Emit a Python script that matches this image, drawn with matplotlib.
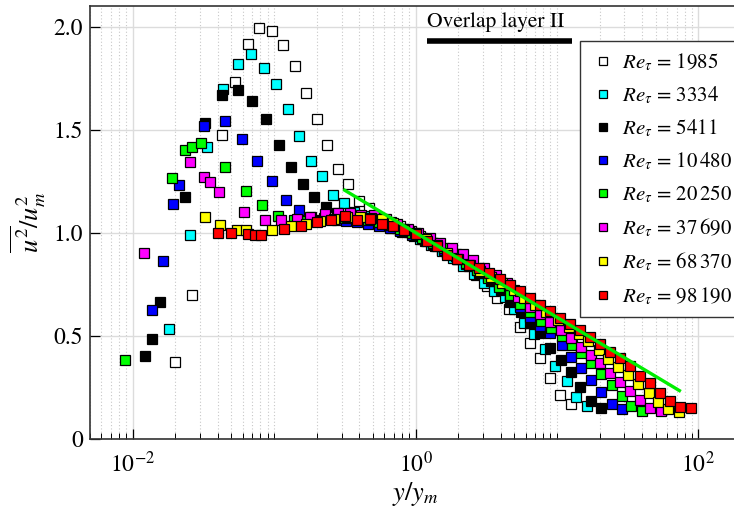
import matplotlib
matplotlib.use('Agg')
import matplotlib.pyplot as plt
from matplotlib.ticker import FixedLocator, NullFormatter, FixedFormatter

plt.rcParams['font.family'] = 'STIXGeneral'
plt.rcParams['mathtext.fontset'] = 'stix'

# ---------------- data ----------------
x_1985 = [0.0199, 0.0261, 0.0428, 0.0532, 0.0653, 0.0781, 0.0960, 0.116, 0.140, 0.168,
          0.200, 0.238, 0.282, 0.334, 0.397, 0.468, 0.557, 0.666, 0.783, 0.922,
          1.084, 1.30, 1.55, 1.86, 2.22, 2.66, 3.21, 3.78, 4.56, 5.46,
          6.43, 7.56, 8.89, 10.5, 12.5]
y_1985 = [0.375, 0.697, 1.474, 1.731, 1.914, 1.992, 1.977, 1.909, 1.809, 1.680,
          1.550, 1.427, 1.311, 1.236, 1.153, 1.121, 1.074, 1.055, 1.035, 1.011,
          0.983, 0.953, 0.919, 0.885, 0.846, 0.798, 0.741, 0.684, 0.631, 0.542,
          0.469, 0.393, 0.299, 0.215, 0.171]

x_3334 = [0.0181, 0.0254, 0.0337, 0.0438, 0.0552, 0.0686, 0.0847, 0.104, 0.125, 0.151,
          0.182, 0.219, 0.260, 0.310, 0.366, 0.436, 0.522, 0.624, 0.746, 0.893,
          1.07, 1.28, 1.53, 1.83, 2.18, 2.61, 3.07, 3.61, 4.26, 4.95,
          5.89, 6.93, 8.20, 9.76, 11.7, 13.7, 16.3]
y_3334 = [0.534, 0.992, 1.416, 1.696, 1.820, 1.867, 1.798, 1.720, 1.599, 1.469,
          1.348, 1.275, 1.186, 1.146, 1.100, 1.084, 1.065, 1.045, 1.026, 1.006,
          0.972, 0.943, 0.914, 0.880, 0.841, 0.802, 0.759, 0.720, 0.691, 0.631,
          0.566, 0.510, 0.437, 0.356, 0.283, 0.204, 0.162]

x_5411 = [0.0122, 0.0138, 0.0156, 0.0233, 0.0324, 0.0431, 0.0555, 0.0701, 0.0881, 0.108,
          0.131, 0.160, 0.192, 0.232, 0.277, 0.331, 0.396, 0.473, 0.566, 0.676,
          0.809, 0.968, 1.16, 1.38, 1.66, 1.98, 2.37, 2.83, 3.39, 3.99,
          4.69, 5.61, 6.50, 7.64, 9.00, 10.6, 12.5, 14.6, 17.3, 20.6]
y_5411 = [0.404, 0.485, 0.665, 1.175, 1.534, 1.671, 1.691, 1.639, 1.550, 1.427,
          1.318, 1.238, 1.173, 1.124, 1.097, 1.084, 1.070, 1.055, 1.040, 1.026,
          1.006, 0.987, 0.963, 0.939, 0.910, 0.875, 0.841, 0.807, 0.768, 0.725,
          0.667, 0.618, 0.565, 0.516, 0.443, 0.385, 0.327, 0.254, 0.186, 0.152]

x_10480 = [0.0137, 0.0164, 0.0194, 0.0212, 0.0321, 0.0452, 0.0596, 0.0760, 0.0975, 0.122,
           0.149, 0.183, 0.224, 0.277, 0.324, 0.383, 0.458, 0.548, 0.655, 0.783,
           0.937, 1.12, 1.34, 1.60, 1.92, 2.29, 2.74, 3.28, 3.92, 4.69,
           5.52, 6.50, 7.64, 9.00, 10.8, 12.6, 14.9, 17.3, 20.6, 24.3, 29.0]
y_10480 = [0.626, 0.862, 1.142, 1.234, 1.516, 1.542, 1.453, 1.348, 1.250, 1.162,
           1.113, 1.078, 1.073, 1.065, 1.056, 1.055, 1.045, 1.035, 1.026, 1.011,
           0.992, 0.972, 0.948, 0.919, 0.890, 0.851, 0.822, 0.788, 0.749, 0.696,
           0.642, 0.594, 0.550, 0.516, 0.458, 0.400, 0.346, 0.288, 0.230, 0.171, 0.147]

x_20250 = [0.00883, 0.0189, 0.0234, 0.0264, 0.0303, 0.0452, 0.0629, 0.0826, 0.106, 0.138,
           0.172, 0.213, 0.263, 0.320, 0.383, 0.458, 0.548, 0.655, 0.783, 0.937,
           1.12, 1.34, 1.60, 1.92, 2.29, 2.74, 3.28, 3.92, 4.69, 5.52,
           6.50, 7.77, 9.14, 10.8, 12.7, 14.9, 17.5, 20.6, 24.3, 28.6, 33.6, 40.2]
y_20250 = [0.385, 1.264, 1.404, 1.419, 1.437, 1.318, 1.202, 1.137, 1.084, 1.065,
           1.060, 1.065, 1.070, 1.074, 1.074, 1.065, 1.055, 1.040, 1.021, 1.001,
           0.977, 0.953, 0.929, 0.900, 0.856, 0.822, 0.783, 0.740, 0.701, 0.657,
           0.618, 0.574, 0.540, 0.501, 0.458, 0.419, 0.370, 0.317, 0.264, 0.210, 0.162, 0.137]

x_37690 = [0.0121, 0.0254, 0.0319, 0.0350, 0.0410, 0.0612, 0.0857, 0.112, 0.146, 0.181,
           0.229, 0.281, 0.342, 0.415, 0.505, 0.614, 0.734, 0.878, 1.05, 1.26,
           1.50, 1.80, 2.15, 2.57, 3.07, 3.68, 4.40, 5.34, 6.50, 7.64,
           9.00, 10.6, 12.5, 14.7, 17.3, 20.3, 23.9, 28.1, 33.1, 38.9, 45.8, 54.8]
y_37690 = [0.901, 1.345, 1.272, 1.246, 1.197, 1.102, 1.065, 1.061, 1.068, 1.078,
           1.092, 1.099, 1.099, 1.089, 1.089, 1.070, 1.045, 1.021, 1.001, 0.977,
           0.953, 0.929, 0.900, 0.870, 0.832, 0.798, 0.759, 0.691, 0.642, 0.608,
           0.569, 0.531, 0.492, 0.448, 0.409, 0.370, 0.322, 0.278, 0.234, 0.191, 0.152, 0.137]

x_68370 = [0.0324, 0.0412, 0.0550, 0.0629, 0.0960, 0.131, 0.169, 0.210, 0.265, 0.329,
           0.402, 0.481, 0.582, 0.688, 0.823, 0.984, 1.18, 1.41, 1.68, 2.01,
           2.41, 2.88, 3.44, 4.12, 4.93, 5.89, 7.05, 8.43, 10.1, 12.1,
           14.2, 16.7, 19.7, 23.1, 27.2, 32.0, 37.7, 44.4, 52.2, 61.4, 73.4]
y_68370 = [1.076, 1.040, 1.016, 1.013, 1.016, 1.035, 1.044, 1.056, 1.070, 1.078,
           1.079, 1.074, 1.068, 1.050, 1.021, 1.001, 0.972, 0.943, 0.904, 0.875,
           0.846, 0.817, 0.788, 0.759, 0.725, 0.686, 0.652, 0.618, 0.579, 0.545,
           0.511, 0.477, 0.434, 0.390, 0.351, 0.312, 0.269, 0.225, 0.181, 0.147, 0.133]

x_98190 = [0.0403, 0.0493, 0.0657, 0.0731, 0.0803, 0.117, 0.156, 0.202, 0.253, 0.315,
           0.387, 0.475, 0.582, 0.696, 0.827, 1.00, 1.20, 1.42, 1.67, 1.97,
           2.38, 2.80, 3.30, 3.94, 4.64, 5.46, 6.43, 7.56, 8.89, 10.5,
           12.3, 14.5, 17.1, 20.1, 23.6, 27.8, 32.7, 38.5, 45.3, 53.3,
           62.7, 73.8, 89.3]
y_98190 = [1.000, 1.000, 0.995, 0.988, 0.988, 1.021, 1.035, 1.051, 1.063, 1.084,
           1.065, 1.069, 1.045, 1.032, 1.016, 0.995, 0.959, 0.935, 0.895, 0.874,
           0.846, 0.830, 0.806, 0.778, 0.746, 0.717, 0.684, 0.652, 0.623, 0.587,
           0.558, 0.531, 0.498, 0.463, 0.425, 0.393, 0.356, 0.307, 0.272, 0.226,
           0.187, 0.155, 0.153]

re_labels = ['1985', '3334', '5411', '10\\,480', '20\\,250', '37\\,690', '68\\,370', '98\\,190']
colors = ['white', '#00ffff', 'black', '#0000ff', '#00ff00', '#ff00ff', '#ffff00', '#ff0000']
series_x = [x_1985, x_3334, x_5411, x_10480, x_20250, x_37690, x_68370, x_98190]
series_y = [y_1985, y_3334, y_5411, y_10480, y_20250, y_37690, y_68370, y_98190]

fit_x = [0.316, 73.4]
fit_y = [1.207, 0.236]

overlap_x = [1.21, 12.8]
overlap_y = [1.93, 1.93]
overlap_text = 'Overlap layer II'

xmajor = [1e-2, 1e0, 1e2]
xmajor_labels = [r'$10^{-2}$', r'$10^{0}$', r'$10^{2}$']
yticks = [0, 0.5, 1.0, 1.5, 2.0]
ytick_labels = ['0', '0.5', '1.0', '1.5', '2.0']

# ---------------- figure ----------------
fig = plt.figure(figsize=(7.34, 5.09), dpi=100)
ax = fig.add_axes([90 / 734, (509 - 439.3) / 509, 651 / 734, 433.3 / 509])
ax.set_xscale('log')
ax.set_xlim(0.005, 200)
ax.set_ylim(0, 2.1)

minor = [k * 10.0 ** n for n in range(-3, 3) for k in range(1, 10)
         if not any(abs(k * 10.0 ** n - m) < 1e-12 for m in xmajor)]
ax.xaxis.set_major_locator(FixedLocator(xmajor))
ax.xaxis.set_major_formatter(FixedFormatter(xmajor_labels))
ax.xaxis.set_minor_locator(FixedLocator(minor))
ax.xaxis.set_minor_formatter(NullFormatter())
ax.set_yticks(yticks)
ax.set_yticklabels(ytick_labels)
ax.grid(True, which='major', axis='both', color='#dcdcdc', lw=1.0, ls='-')
ax.grid(True, which='minor', axis='x', color='#c8c8c8', lw=0.8, ls=(0, (1, 2)))
ax.set_axisbelow(True)

ax.tick_params(which='major', direction='in', length=7, width=0.9, labelsize=17)
ax.tick_params(axis='x', which='major', pad=9)
ax.tick_params(axis='y', which='major', pad=5)
ax.tick_params(which='minor', direction='in', length=4, width=0.7)
for s in ax.spines.values():
    s.set_linewidth(1.2)
    s.set_color('#333333')

for xs, ys, c, lab in zip(series_x, series_y, colors, re_labels):
    ax.plot(xs, ys, ls='none', marker='s', ms=7, mfc=c, mec='black', mew=0.9,
            label=r'$Re_{\tau}$ = $' + lab + '$', zorder=3)

ax.plot(fit_x, fit_y, color='#00ee00', lw=2.4, zorder=4)
ax.plot(overlap_x, overlap_y, color='black', lw=4, solid_capstyle='butt', zorder=4)
ax.text(overlap_x[0], 2.02, overlap_text, fontsize=15.5, ha='left', va='center')

ax.set_xlabel(r'$y/y_m$', fontsize=19, labelpad=2)
ax.set_ylabel(r'$\overline{u^2}/u_m^2$', fontsize=19, labelpad=4)

leg = ax.legend(loc='upper left', bbox_to_anchor=(580 / 734, 1 - 40.7 / 509),
                bbox_transform=fig.transFigure, frameon=True, fancybox=False,
                edgecolor='#333333', framealpha=1, fontsize=15, labelspacing=0.55,
                handlelength=1.2, handletextpad=0.3, borderpad=0.5,
                markerscale=0.8, borderaxespad=0)
leg.get_frame().set_linewidth(1.0)

fig.savefig('out.png', dpi=100)
